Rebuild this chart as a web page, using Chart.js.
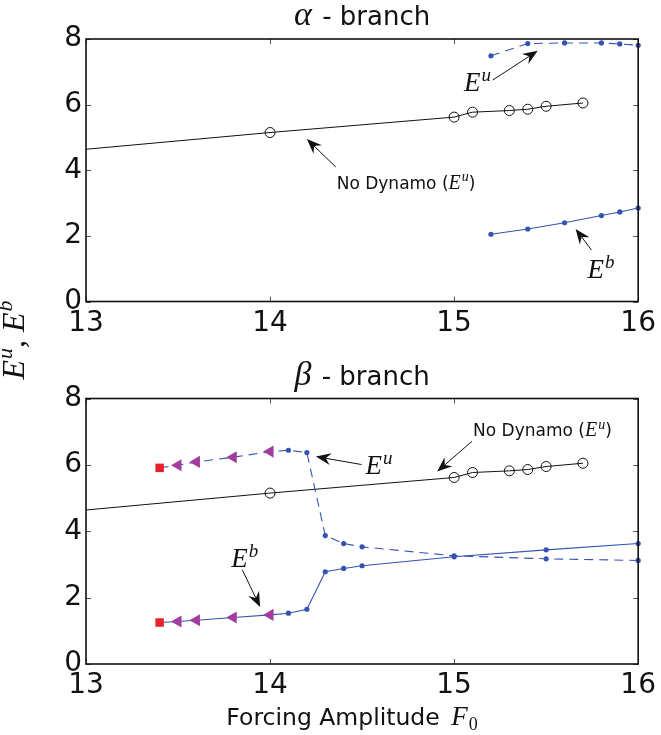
<!DOCTYPE html>
<html>
<head>
<meta charset="utf-8">
<script src="https://cdn.jsdelivr.net/npm/chart.js@4"></script>
<style>
  html, body { margin: 0; padding: 0; background: #fff; }
  #wrap { position: relative; width: 661px; height: 735px; }
  .layer { position: absolute; left: 0; top: 0; width: 661px; height: 735px; }
</style>
</head>
<body>
<div id="wrap">
  <div class="layer"><canvas id="alpha-chart"></canvas></div>
  <div class="layer"><canvas id="beta-chart"></canvas></div>
</div>
<script>
// ─── DATA ────────────────────────────────────────────────────────
const xTicks = [13, 14, 15, 16];
const yTicks = [0, 2, 4, 6, 8];

// no dynamo branch, same in both panels
const noDynF = [13, 14, 15, 15.1, 15.3, 15.4, 15.5, 15.7];
const noDynE = [4.64, 5.15, 5.62, 5.77, 5.82, 5.86, 5.95, 6.05];

// alpha branch
const alphaF  = [15.2, 15.4, 15.6, 15.8, 15.9, 16];
const alphaEu = [7.49, 7.86, 7.88, 7.88, 7.85, 7.81];
const alphaEb = [2.05, 2.21, 2.40, 2.62, 2.73, 2.85];

// beta branch
const betaF    = [13.4, 13.5, 13.6, 13.8, 14.0, 14.1, 14.2, 14.3, 14.4, 14.5, 15, 15.5, 16];
const betaEu   = [5.91, 5.99, 6.09, 6.23, 6.40, 6.44, 6.37, 3.87, 3.63, 3.53, 3.26, 3.17, 3.12];
const betaEb   = [1.25, 1.28, 1.32, 1.40, 1.48, 1.53, 1.65, 2.78, 2.88, 2.96, 3.23, 3.44, 3.63];
const betaKind = ['start', 'back', 'back', 'back', 'back', 'run', 'run', 'run', 'run', 'run', 'run', 'run', 'run'];

// ─── STYLE ───────────────────────────────────────────────────────
const SANS = '"DejaVu Sans", sans-serif';
const MATH = '"Liberation Serif", serif';
const BLUE = '#3553b3';
const MAGENTA = '#a23d9f';
const RED = '#e6222b';

const pts = (xs, ys) => xs.map((x, i) => ({ x, y: ys[i] }));

function noDynSet() {
  return {
    data: pts(noDynF, noDynE),
    borderColor: '#111', borderWidth: 1,
    pointStyle: 'circle',
    pointRadius: c => (c.raw && c.raw.x === noDynF[0]) ? 0 : 5,
    pointBorderColor: '#111', pointBorderWidth: 1,
    pointBackgroundColor: 'rgba(0,0,0,0)',
    showLine: true, clip: false,
  };
}

function blueSet(xs, ys, dashed) {
  return {
    data: pts(xs, ys),
    borderColor: BLUE, borderWidth: 1.1,
    borderDash: dashed ? [9, 6] : [],
    pointStyle: 'circle', pointRadius: 2.6,
    pointBackgroundColor: BLUE, pointBorderColor: BLUE, pointBorderWidth: 0,
    showLine: true, clip: false,
  };
}

function betaSet(ys, dashed) {
  const ds = blueSet(betaF, ys, dashed);
  const k = c => betaKind[c.dataIndex];
  ds.pointStyle = c => k(c) === 'start' ? 'rect' : k(c) === 'back' ? 'triangle' : 'circle';
  ds.pointRotation = c => k(c) === 'back' ? -90 : 0;
  ds.pointRadius = c => k(c) === 'start' ? 6 : k(c) === 'back' ? 7 : 2.6;
  ds.pointBackgroundColor = c => k(c) === 'start' ? RED : k(c) === 'back' ? MAGENTA : BLUE;
  ds.pointBorderColor = ds.pointBackgroundColor;
  return ds;
}

// ─── DRAW HELPERS ────────────────────────────────────────────────
function richWidth(ctx, parts) {
  let w = 0;
  for (const p of parts) { ctx.font = p.font; w += ctx.measureText(p.t).width + (p.gap || 0); }
  return w;
}

function drawRich(ctx, x, y, parts) {
  let cx = x;
  for (const p of parts) {
    ctx.font = p.font;
    ctx.fillText(p.t, cx, y + (p.dy || 0));
    cx += ctx.measureText(p.t).width + (p.gap || 0);
  }
}

function drawArrow(ctx, x1, y1, x2, y2) {
  const a = Math.atan2(y2 - y1, x2 - x1);
  const len = 15, half = 6, notch = 10;
  const bx = x2 - Math.cos(a) * notch, by = y2 - Math.sin(a) * notch;
  ctx.beginPath();
  ctx.moveTo(x1, y1);
  ctx.lineTo(bx, by);
  ctx.strokeStyle = '#111';
  ctx.lineWidth = 1;
  ctx.stroke();
  const hx = x2 - Math.cos(a) * len, hy = y2 - Math.sin(a) * len;
  ctx.beginPath();
  ctx.moveTo(x2, y2);
  ctx.lineTo(hx - Math.sin(a) * half, hy + Math.cos(a) * half);
  ctx.lineTo(bx, by);
  ctx.lineTo(hx + Math.sin(a) * half, hy - Math.cos(a) * half);
  ctx.closePath();
  ctx.fillStyle = '#111';
  ctx.fill();
}

const eSup = (sup, big, small) => [
  { t: 'E', font: `italic ${big}px ${MATH}`, gap: 1 },
  { t: sup, font: `italic ${small}px ${MATH}`, dy: -big * 0.38 },
];

const noDynLabel = [
  { t: 'No Dynamo (', font: `17px ${SANS}` },
  ...eSup('u', 20, 14),
  { t: ')', font: `17px ${SANS}`, gap: 0 },
];

// box with inward ticks, titles, annotations
const decor = {
  id: 'decor',
  afterDraw(chart, args, opts) {
    const { ctx, chartArea: ca, scales: { x, y } } = chart;
    ctx.save();
    ctx.strokeStyle = '#555';
    ctx.lineWidth = 1;
    ctx.beginPath();
    for (const v of xTicks) {
      const px = Math.round(x.getPixelForValue(v)) + 0.5;
      ctx.moveTo(px, ca.bottom); ctx.lineTo(px, ca.bottom - 5);
      ctx.moveTo(px, ca.top); ctx.lineTo(px, ca.top + 5);
    }
    for (const v of yTicks) {
      const py = Math.round(y.getPixelForValue(v)) + 0.5;
      ctx.moveTo(ca.left, py); ctx.lineTo(ca.left + 5, py);
      ctx.moveTo(ca.right, py); ctx.lineTo(ca.right - 5, py);
    }
    ctx.stroke();
    ctx.strokeStyle = '#111';
    ctx.lineWidth = 1.6;
    ctx.strokeRect(ca.left, ca.top, ca.right - ca.left, ca.bottom - ca.top);

    ctx.fillStyle = '#111';
    ctx.textBaseline = 'alphabetic';
    ctx.textAlign = 'left';

    // panel title
    const tw = richWidth(ctx, opts.title);
    drawRich(ctx, (ca.left + ca.right) / 2 - tw / 2, ca.top - 14, opts.title);

    // annotations, placed in data units
    for (const n of opts.notes) {
      drawArrow(ctx, x.getPixelForValue(n.from[0]), y.getPixelForValue(n.from[1]),
                     x.getPixelForValue(n.to[0]), y.getPixelForValue(n.to[1]));
      ctx.fillStyle = '#111';
      drawRich(ctx, x.getPixelForValue(n.at[0]), y.getPixelForValue(n.at[1]), n.text);
    }

    if (opts.yLabel) {
      ctx.save();
      ctx.translate(24, 340);
      ctx.rotate(-Math.PI / 2);
      const w = richWidth(ctx, opts.yLabel);
      drawRich(ctx, -w / 2, 0, opts.yLabel);
      ctx.restore();
    }
    if (opts.xLabel) {
      const w = richWidth(ctx, opts.xLabel);
      drawRich(ctx, 352 - w / 2, 725, opts.xLabel);
    }
    ctx.restore();
  },
};

function makeChart(id, datasets, padTop, padBottom, decorOpts) {
  const tickFont = { family: SANS, size: 28 };
  return new Chart(document.getElementById(id), {
    type: 'scatter',
    data: { datasets },
    options: {
      responsive: true,
      maintainAspectRatio: false,
      animation: false,
      events: [],
      layout: { padding: { top: padTop, bottom: padBottom, left: 0, right: 19 } },
      plugins: { legend: { display: false }, tooltip: { enabled: false }, decor: decorOpts },
      scales: {
        x: {
          type: 'linear', min: 13, max: 16,
          afterBuildTicks: s => { s.ticks = xTicks.map(v => ({ value: v })); },
          afterFit: s => { s.height = 40; },
          ticks: { font: tickFont, color: '#111', padding: 5, maxRotation: 0 },
          grid: { display: false, drawTicks: false },
          border: { display: false },
        },
        y: {
          type: 'linear', min: 0, max: 8,
          afterBuildTicks: s => { s.ticks = yTicks.map(v => ({ value: v })); },
          afterFit: s => { s.width = 86; },
          ticks: { font: tickFont, color: '#111', padding: 4 },
          grid: { display: false, drawTicks: false },
          border: { display: false },
        },
      },
    },
    plugins: [decor],
  });
}

const titleParts = (greek) => [
  { t: greek, font: `italic 34px ${MATH}`, gap: 2 },
  { t: ' - branch', font: `26px ${SANS}` },
];

makeChart('alpha-chart', [
  blueSet(alphaF, alphaEu, true),
  blueSet(alphaF, alphaEb, false),
  noDynSet(),
], 39, 393.5, {
  title: titleParts('α'),
  notes: [
    { at: [15.054, 6.42], from: [15.21, 6.75], to: [15.454, 7.64], text: eSup('u', 27, 19) },
    { at: [14.362, 3.43], from: [14.357, 4.10], to: [14.2, 4.95], text: noDynLabel },
    { at: [15.724, 0.72], from: [15.746, 1.57], to: [15.66, 2.21], text: eSup('b', 27, 19) },
  ],
  yLabel: [...eSup('u', 32, 22), { t: ', ', font: `italic 32px ${MATH}` }, ...eSup('b', 32, 22)],
});

makeChart('beta-chart', [
  betaSet(betaEu, true),
  betaSet(betaEb, false),
  noDynSet(),
], 398.5, 31, {
  title: titleParts('β'),
  notes: [
    { at: [15.103, 6.86], from: [15.097, 6.71], to: [14.908, 5.80], text: noDynLabel },
    { at: [14.519, 5.71], from: [14.497, 6.01], to: [14.249, 6.25], text: eSup('u', 27, 19) },
    { at: [13.789, 2.93], from: [13.849, 2.84], to: [13.946, 1.72], text: eSup('b', 27, 19) },
  ],
  xLabel: [
    { t: 'Forcing Amplitude ', font: `23.5px ${SANS}`, gap: 4 },
    { t: 'F', font: `italic 27px ${MATH}`, gap: 1 },
    { t: '0', font: `18px ${MATH}`, dy: 5 },
  ],
});
</script>
</body>
</html>
